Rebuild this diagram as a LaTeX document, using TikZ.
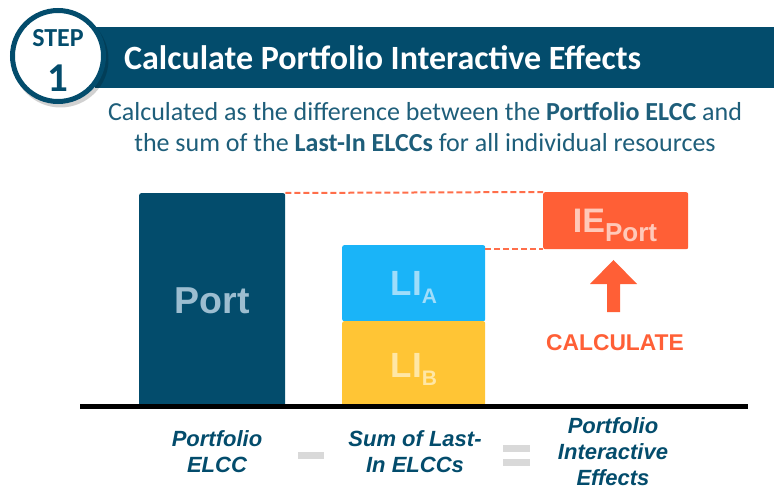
\documentclass[tikz,border=0pt]{standalone}
\usepackage{fontspec}
\setmainfont{Carlito}
\newfontfamily\arialf{Liberation Sans}
\definecolor{dkblue}{HTML}{034C6C}
\definecolor{subblue}{HTML}{1E5E7A}
\definecolor{liblue}{HTML}{1AB4F8}
\definecolor{liyellow}{HTML}{FFC535}
\definecolor{ieorange}{HTML}{FF5F36}
\definecolor{dashor}{HTML}{FF6E4A}
\definecolor{porttxt}{HTML}{9CBDD0}
\definecolor{liatxt}{HTML}{A0DDFA}
\definecolor{libtxt}{HTML}{FFE7A6}
\definecolor{ietxt}{HTML}{FFC9B9}
\definecolor{opgray}{HTML}{D9D9D9}
\usetikzlibrary{calc}
\begin{document}
\begin{tikzpicture}[x=1pt,y=-1pt,
  barbox/.style={draw=none,rectangle,rounded corners=2pt,inner sep=0pt,anchor=north west},
  bottomlbl/.style={font=\arialf\bfseries\itshape\fontsize{22}{26}\selectfont,text=dkblue,align=center,inner sep=0pt},
  opbar/.style={fill=opgray,draw=none}
]
\useasboundingbox (0,0) rectangle (774,489);
% banner
\fill[dkblue] (95,27) rectangle (774,88);
\node[anchor=base west,text=white,inner sep=0pt,font=\bfseries\fontsize{34}{34}\selectfont] (title) at (124,70) {Calculate Portfolio Interactive Effects};
% step circle
\fill[black,opacity=0.18] (60.5,59.5) circle (48);
\draw[dkblue,line width=5pt,fill=white] (58,56) circle (45.5);
\node[anchor=base,text=dkblue,inner sep=0pt,font=\bfseries\fontsize{26}{26}\selectfont] (step) at (58,47) {STEP};
\node[anchor=base,text=dkblue,inner sep=0pt,font=\bfseries\fontsize{41}{41}\selectfont] (one) at (58,92) {1};
% subtitle
\node[anchor=base,text=subblue,inner sep=0pt,font=\fontsize{26}{26}\selectfont] (sub1) at (425,121) {Calculated as the difference between the \textbf{Portfolio ELCC} and};
\node[anchor=base,text=subblue,inner sep=0pt,font=\fontsize{26}{26}\selectfont] (sub2) at (425,152) {the sum of the \textbf{Last-In ELCCs} for all individual resources};
% bars
\node[barbox,fill=dkblue,minimum width=146pt,minimum height=214pt] (port) at (139,193) {};
\node[barbox,fill=liblue,minimum width=143pt,minimum height=76pt] (lia) at (342,245) {};
\node[barbox,fill=liyellow,minimum width=143pt,minimum height=86pt] (lib) at (342,321) {};
\node[barbox,fill=ieorange,minimum width=145pt,minimum height=57pt] (ie) at (543,192) {};
% bar labels
\node[anchor=base,inner sep=0pt,text=porttxt,font=\arialf\bfseries\fontsize{37.5}{37.5}\selectfont] (porttext) at (212,313) {Port};
\node[anchor=base,inner sep=0pt,text=liatxt,font=\arialf\bfseries\fontsize{35}{35}\selectfont] (liatext) at (414,295) {LI\raisebox{-8pt}{\fontsize{21}{21}\selectfont A}};
\node[anchor=base,inner sep=0pt,text=libtxt,font=\arialf\bfseries\fontsize{35}{35}\selectfont] (libtext) at (414,377) {LI\raisebox{-8pt}{\fontsize{21}{21}\selectfont B}};
\node[anchor=base,inner sep=0pt,text=ietxt,font=\arialf\bfseries\fontsize{34}{34}\selectfont] (ietext) at (615,233) {IE\raisebox{-9pt}{\fontsize{26}{26}\selectfont Port}};
% dashed connectors
\draw[dashor,line width=2pt,dash pattern=on 6pt off 3pt] (port.north east) -- (ie.north west);
\draw[dashor,line width=2pt,dash pattern=on 6pt off 3pt] (ie.south west -| lia.east) -- (ie.south west);
% arrow
\coordinate (atip) at (613.5,260);
\fill[ieorange] (atip) -- (637,284) -- (620,284) -- (620,312) -- (607,312) -- (607,284) -- (590,284) -- cycle;
\node[anchor=base,inner sep=0pt,text=ieorange,font=\arialf\bfseries\fontsize{22.8}{22.8}\selectfont] (calc) at (615,350) {CALCULATE};
% baseline
\draw[black,line width=5pt] (80,406) -- (748,406);
% bottom labels
\node[bottomlbl] (lbl1) at (217,452) {Portfolio\\ELCC};
\node[bottomlbl] (lbl2) at (415,452) {Sum of Last-\\In ELCCs};
\node[bottomlbl] (lbl3) at (613,452) {Portfolio\\Interactive\\Effects};
\fill[opgray] (298,452) rectangle (324,459);
\fill[opgray] (503,445) rectangle (530,452);
\fill[opgray] (503,459) rectangle (530,466);
\end{tikzpicture}
\end{document}
